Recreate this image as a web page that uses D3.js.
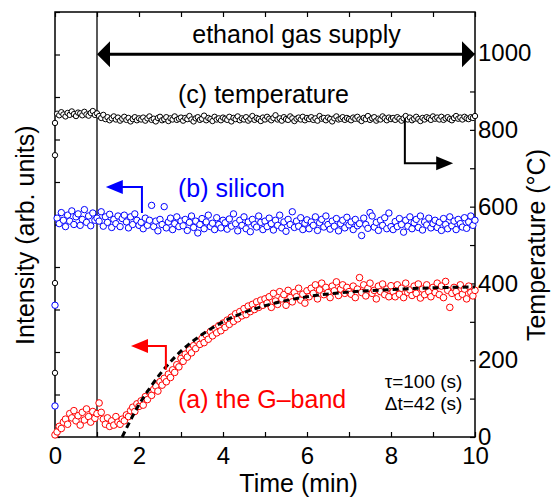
<!DOCTYPE html>
<html>
<head>
<meta charset="utf-8">
<script src="https://cdn.jsdelivr.net/npm/d3@7"></script>
<style>
  body { margin: 0; background: #fff; }
  text { font-family: "Liberation Sans", Arial, sans-serif; }
</style>
</head>
<body>
<div class="main-graph"></div>
<script>
// sampling interval (min), first sample at t = step
var step = 0.05;

// (c) temperature (°C), right axis
var temperature = [
  842, 838, 846, 840, 835, 844, 839, 848, 841, 836, 845, 843, 838, 847, 840, 837, 844, 849, 839, 843,
  836, 831, 839, 828, 833, 825, 830, 835, 827, 832, 824, 829, 834, 826, 831, 822, 828, 833, 825, 830,
  827, 832, 824, 830, 835, 826, 829, 822, 831, 834, 825, 828, 833, 823, 830, 827, 835, 826, 829, 832,
  824, 831, 828, 836, 827, 822, 830, 833, 826, 829, 837, 825, 831, 828, 823, 834, 827, 830, 825, 832,
  829, 826, 834, 822, 831, 828, 835, 825, 830, 827, 833, 824, 829, 836, 826, 831, 828, 823, 832, 827,
  834, 829, 825, 831, 838, 827, 830, 824, 833, 828, 826, 835, 830, 823, 829, 832, 827, 834, 825, 831,
  828, 833, 826, 830, 824, 836, 829, 831, 825, 832, 828, 822, 830, 835, 827, 829, 833, 826, 831, 828,
  825, 832, 829, 834, 827, 823, 831, 828, 836, 826, 830, 833, 824, 829, 827, 835, 830, 825, 832, 828,
  831, 826, 833, 829, 824, 830, 836, 827, 832, 825, 829, 834, 828, 823, 831, 827, 833, 830, 826, 835,
  829, 832, 827, 834, 826, 830, 833, 828, 825, 831, 836, 829, 832, 827, 834, 830, 828, 833, 831, 836
];
// readings taken at t = 0 while heating up
var temperatureStart = [167, 401, 734, 818];

// (b) silicon intensity (arb. units), left axis
var silicon = [
  5.15, 5.02, 5.28, 5.10, 4.95, 5.22, 5.08, 5.32, 5.00, 5.18, 5.25, 4.98, 5.12, 5.35, 5.05, 5.20, 4.97, 5.27, 5.10, 5.15,
  5.08, 5.30, 4.96, 5.18, 5.05, 5.24, 4.93, 5.12, 5.02, 5.20, 4.95, 5.14, 5.22, 5.06, 4.92, 5.18, 5.00, 5.25, 5.10, 4.98,
  5.05, 4.90, 5.15, 4.98, 5.10, 5.45, 4.95, 5.08, 4.85, 5.12, 5.00, 5.42, 4.92, 5.06, 5.15, 4.88, 5.02, 5.18, 4.95, 5.08,
  4.97, 5.12, 4.86, 5.05, 5.20, 4.93, 5.08, 4.80, 5.00, 5.14, 4.90, 5.06, 5.22, 4.95, 5.03, 4.88, 5.16, 5.00, 4.92, 5.10,
  5.04, 4.89, 5.13, 4.96, 5.25, 5.02, 4.85, 5.10, 4.98, 5.18, 4.90, 5.06, 4.83, 5.12, 5.00, 4.94, 5.20, 5.05, 4.88, 5.08,
  4.95, 5.15, 5.02, 4.87, 5.10, 4.98, 5.22, 4.92, 5.06, 4.84, 5.12, 5.00, 5.30, 4.93, 5.08, 4.96, 5.16, 4.88, 5.03, 5.11,
  4.90, 5.06, 4.98, 5.18, 4.86, 5.04, 5.12, 4.94, 5.20, 5.00, 4.89, 5.08, 4.96, 5.14, 4.85, 5.02, 5.10, 4.92, 5.17, 4.99,
  5.06, 4.88, 5.12, 4.97, 5.02, 4.74, 5.15, 5.00, 4.91, 5.28, 5.20, 4.94, 5.05, 4.86, 5.10, 4.98, 5.16, 4.90, 5.27, 4.95,
  4.88, 5.07, 4.95, 5.14, 5.00, 4.82, 5.10, 4.96, 5.18, 4.90, 5.04, 5.12, 4.93, 5.20, 4.87, 5.06, 4.99, 5.15, 4.92, 5.02,
  5.10, 4.93, 5.05, 4.86, 5.14, 5.00, 4.90, 5.18, 4.97, 5.08, 4.88, 5.12, 5.02, 4.94, 5.16, 4.91, 5.06, 5.20, 4.98, 5.10
];
var siliconStart = [0.73, 3.1];

// (a) G-band intensity (arb. units), left axis
var gband = [
  0.12, 0.25, 0.20, 0.35, 0.42, 0.30, 0.55, 0.45, 0.62, 0.38, 0.50, 0.28, 0.58, 0.40, 0.66, 0.48, 0.35, 0.60, 0.44, 0.55,
  0.80, 0.58, 0.42, 0.30, 0.45, 0.25, 0.38, 0.28, 0.48, 0.35, 0.30, 0.42, 0.38, 0.52, 0.48, 0.62, 0.70, 0.60, 0.78, 0.72,
  0.85, 0.75, 0.95, 0.88, 1.05, 0.98, 1.12, 1.20, 1.08, 1.30, 1.22, 1.38, 1.30, 1.48, 1.40, 1.58, 1.52, 1.70, 1.65, 1.85,
  1.78, 1.95, 1.88, 2.05, 1.98, 2.15, 2.08, 2.25, 2.18, 2.32, 2.22, 2.40, 2.30, 2.48, 2.38, 2.55, 2.45, 2.62, 2.50, 2.68,
  2.58, 2.75, 2.65, 2.82, 2.72, 2.90, 2.78, 2.95, 2.85, 3.02, 2.88, 3.08, 2.95, 3.12, 3.00, 3.18, 3.05, 3.22, 3.10, 3.25,
  3.15, 3.30, 3.05, 3.38, 3.20, 3.12, 3.42, 3.25, 3.35, 3.10, 3.45, 3.28, 3.18, 3.40, 3.30, 3.50, 3.22, 3.36, 3.15, 3.44,
  3.30, 3.50, 3.38, 3.58, 3.25, 3.46, 3.62, 3.35, 3.52, 3.40, 3.28, 3.55, 3.44, 3.65, 3.33, 3.48, 3.58, 3.38, 3.52, 3.42,
  3.36, 3.55, 3.28, 3.48, 3.75, 3.40, 3.58, 3.32, 3.50, 3.62, 3.38, 3.45, 3.25, 3.55, 3.42, 3.60, 3.35, 3.48, 3.30, 3.56,
  3.42, 3.30, 3.58, 3.36, 3.50, 3.28, 3.62, 3.40, 3.46, 3.33, 3.55, 3.38, 3.60, 3.27, 3.48, 3.35, 3.58, 3.42, 3.30, 3.52,
  3.40, 3.62, 3.35, 3.55, 3.28, 3.66, 3.45, 3.05, 3.38, 3.52, 3.42, 3.30, 3.58, 3.36, 3.48, 3.25, 3.55, 3.40, 3.32, 3.45
];
var gbandStart = [0.05];

// fitted curve (tau = 100 s, delta t = 42 s)
var fitTime  = [1.6, 1.8, 2.0, 2.25, 2.5, 2.75, 3.0, 3.5, 4.0, 4.5, 5.0, 6.0, 7.0, 8.0, 9.0, 10.0];
var fitValue = [0, 0.40, 0.76, 1.14, 1.48, 1.77, 2.02, 2.41, 2.71, 2.93, 3.09, 3.30, 3.41, 3.47, 3.51, 3.53];

var xTicks = [0, 1, 2, 3, 4, 5, 6, 7, 8, 9, 10];
var tempTicks = [0, 100, 200, 300, 400, 500, 600, 700, 800, 900, 1000];
var gasStart = 1, gasEnd = 10;

var margin = {top: 12, right: 76, bottom: 60, left: 55},
    width = 551 - margin.left - margin.right,
    height = 497 - margin.top - margin.bottom;

var svg = d3.select(".main-graph")
            .append("svg")
            .attr("width", width + margin.left + margin.right)
            .attr("height", height + margin.top + margin.bottom)
            .append("g")
            .attr("transform", "translate(" + margin.left + "," + margin.top + ")");

var x = d3.scaleLinear().domain([0, 10]).range([0, width]);
var yL = d3.scaleLinear().domain([0, 10]).range([height, 0]);
var yR = d3.scaleLinear().domain([0, 1107]).range([height, 0]);

// axes, ticks pointing inward
svg.append("g")
   .attr("class", "x-axis")
   .attr("transform", "translate(0," + height + ")")
   .call(d3.axisBottom(x).tickValues(xTicks).tickSize(-5).tickPadding(10)
           .tickFormat(function(d){ return d % 2 ? "" : d; }));
svg.append("g")
   .call(d3.axisTop(x).tickValues(xTicks).tickSize(-5).tickFormat(""));
svg.append("g")
   .call(d3.axisLeft(yL).ticks(10).tickSize(-5).tickFormat(""));
svg.append("g")
   .attr("class", "y-axis")
   .attr("transform", "translate(" + width + ",0)")
   .call(d3.axisRight(yR).tickValues(tempTicks).tickSize(-5).tickPadding(3)
           .tickFormat(function(d){ return d % 200 ? "" : d; }));

svg.selectAll(".domain").remove();
svg.selectAll(".tick line").attr("stroke", "#000").attr("stroke-width", 1.2);
svg.selectAll(".tick text").style("font-size", "24px").attr("fill", "#000");

svg.append("rect")
   .attr("width", width).attr("height", height)
   .attr("fill", "none").attr("stroke", "#000").attr("stroke-width", 1.5);

// gas supply start
svg.append("line")
   .attr("x1", x(gasStart)).attr("x2", x(gasStart))
   .attr("y1", 0).attr("y2", height)
   .attr("stroke", "#000").attr("stroke-width", 1.3);

// data points
function plotSeries(values, start, scale, color, r) {
  var pts = start.map(function(v){ return {t: 0, v: v}; })
     .concat(values.map(function(v, i){ return {t: (i + 1) * step, v: v}; }));
  svg.append("g").selectAll("circle")
     .data(pts).enter().append("circle")
     .attr("cx", function(d){ return x(d.t); })
     .attr("cy", function(d){ return scale(d.v); })
     .attr("r", r)
     .attr("fill", "#fff")
     .attr("stroke", color)
     .attr("stroke-width", 1);
}
plotSeries(temperature, temperatureStart, yR, "#000", 2.7);
plotSeries(silicon, siliconStart, yL, "#0000ff", 3.2);
plotSeries(gband, gbandStart, yL, "#ff0000", 3.3);

// fit
var line = d3.line()
             .x(function(d, i){ return x(fitTime[i]); })
             .y(function(d){ return yL(d); })
             .curve(d3.curveMonotoneX);
svg.append("path")
   .attr("d", line(fitValue))
   .attr("fill", "none")
   .attr("stroke", "#000")
   .attr("stroke-width", 3)
   .attr("stroke-dasharray", "6,4");

// arrow helper: head pointing from (x0,y0) toward (x1,y1)
function head(px, py, dir, len, half, color) {
  var pts = [[px, py], [px - dir * len, py - half], [px - dir * len, py + half]];
  svg.append("path")
     .attr("d", "M" + pts.join("L") + "Z")
     .attr("fill", color);
}

// ethanol gas supply double arrow
var ya = yR(997);
svg.append("line")
   .attr("x1", x(gasStart) + 10).attr("x2", x(gasEnd) - 10)
   .attr("y1", ya).attr("y2", ya)
   .attr("stroke", "#000").attr("stroke-width", 3);
head(x(gasStart), ya, -1, 13, 13, "#000");
head(x(gasEnd), ya, 1, 13, 13, "#000");
svg.append("text")
   .attr("x", x(5.75)).attr("y", ya - 11)
   .attr("text-anchor", "middle")
   .style("font-size", "25px")
   .text("ethanol gas supply");

// series pointer arrows
function pointer(tx, v0, v1, tTip, scale, color, dir) {
  var px = x(tx), tipx = x(tTip), yy = scale(v1);
  svg.append("path")
     .attr("d", "M" + px + "," + scale(v0) + "V" + yy + "H" + (tipx - dir * 15))
     .attr("fill", "none").attr("stroke", color).attr("stroke-width", 2);
  head(tipx, yy, dir, 17, 7, color);
}
pointer(8.33, 830, 713, 9.48, yR, "#000", 1);
pointer(2.07, 5.27, 5.88, 1.21, yL, "#0000ff", -1);
pointer(2.64, 1.58, 2.14, 1.81, yL, "#ff0000", -1);

// series labels
var labels = [
  {text: "(c) temperature", v: 870, scale: yR, color: "#000"},
  {text: "(b) silicon", v: 5.65, scale: yL, color: "#0000ff"},
  {text: "(a) the G\u2013band", v: 0.68, scale: yL, color: "#ff0000"}
];
labels.forEach(function(l){
  svg.append("text")
     .attr("x", x(2.93)).attr("y", l.scale(l.v))
     .style("font-size", "25px")
     .attr("fill", l.color)
     .text(l.text);
});

svg.append("text")
   .attr("x", x(9.7)).attr("y", yR(128))
   .attr("text-anchor", "end")
   .style("font-size", "19px")
   .text("\u03c4=100 (s)");
svg.append("text")
   .attr("x", x(9.7)).attr("y", yR(70))
   .attr("text-anchor", "end")
   .style("font-size", "19px")
   .text("\u0394t=42 (s)");

// axis titles
svg.append("text")
   .attr("text-anchor", "middle")
   .style("font-size", "25px")
   .attr("x", x(5.8)).attr("y", height + 55)
   .text("Time (min)");
svg.append("text")
   .attr("text-anchor", "middle")
   .style("font-size", "25px")
   .attr("transform", "translate(" + (-21) + "," + (yL(4.75)) + ")rotate(-90)")
   .text("Intensity (arb. units)");
svg.append("text")
   .attr("text-anchor", "middle")
   .style("font-size", "25px")
   .attr("transform", "translate(" + (width + 70) + "," + (yR(500)) + ")rotate(-90)")
   .text("Temperature (\u00b0C)");
</script>
</body>
</html>
